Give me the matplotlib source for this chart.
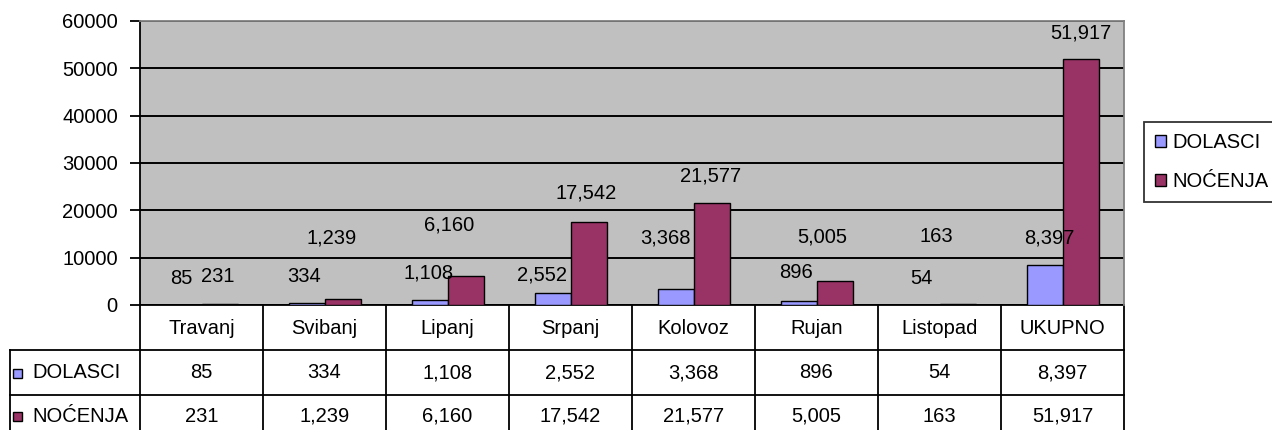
import matplotlib
matplotlib.use("Agg")
import matplotlib.pyplot as plt
from matplotlib.lines import Line2D
from matplotlib.patches import Rectangle
import numpy as np

plt.rcParams["font.family"] = ["Liberation Sans", "DejaVu Sans"]

months = ["Travanj", "Svibanj", "Lipanj", "Srpanj", "Kolovoz", "Rujan", "Listopad", "UKUPNO"]
dolasci = [85, 334, 1108, 2552, 3368, 896, 54, 8397]
nocenja = [231, 1239, 6160, 17542, 21577, 5005, 163, 51917]
series_names = ["DOLASCI", "NOĆENJA"]
yticks = [0, 10000, 20000, 30000, 40000, 50000, 60000]

# where the value labels sit (data units) and their sideways nudge (pixels)
dol_label_y = [5700, 6100, 6800, 6300, 14200, 6800, 5700, 14200]
noc_label_y = [6100, 14200, 16900, 23700, 27300, 14400, 14400, 57500]
dol_label_dx = [-2, -2, -1, -10, -10, -2, 0, 5]
noc_label_dx = [-2, -11, -16, -2, -1, -12, -21, 0]

col_d = "#9999FF"
col_n = "#993366"
W, H = 1272, 430
FS = 14.5

fig = plt.figure(figsize=(W / 100, H / 100), dpi=100)
left, right, top, bottom = 140, 1124, 21, 305
ax = fig.add_axes([left / W, 1 - bottom / H, (right - left) / W, (bottom - top) / H])
ax.set_facecolor("#C0C0C0")

x = np.arange(len(months))
bw = 36 / 123
ax.bar(x - bw / 2, dolasci, bw, color=col_d, edgecolor="black", linewidth=1, zorder=3, label=series_names[0])
ax.bar(x + bw / 2, nocenja, bw, color=col_n, edgecolor="black", linewidth=1, zorder=3, label=series_names[1])

for i in range(len(months)):
    ax.annotate(f"{dolasci[i]:,}", xy=(x[i] - bw / 2, dol_label_y[i]), xytext=(dol_label_dx[i], 0),
                textcoords="offset pixels", ha="center", va="center", fontsize=FS, zorder=4)
    ax.annotate(f"{nocenja[i]:,}", xy=(x[i] + bw / 2, noc_label_y[i]), xytext=(noc_label_dx[i], 0),
                textcoords="offset pixels", ha="center", va="center", fontsize=FS, zorder=4)

ax.set_xlim(-0.5, len(months) - 0.5)
ax.set_ylim(0, 60000)
ax.set_yticks(yticks)
ax.set_yticklabels([str(t) for t in yticks], fontsize=FS)
ax.tick_params(axis="y", length=7, width=1.3, pad=9, color="black")
ax.set_xticks([])
ax.yaxis.grid(True, color="black", linewidth=1.4, zorder=1)
ax.set_axisbelow(True)
ax.spines["left"].set_color("black")
ax.spines["left"].set_linewidth(1.3)
ax.spines["bottom"].set_visible(False)
for s in ["top", "right"]:
    ax.spines[s].set_color("#808080")
    ax.spines[s].set_linewidth(1.3)

# data table under the plot, drawn in axes coordinates (x follows the categories)
ah = bottom - top
def yax(py):
    return (bottom - py) / ah

row_tops = [305, 350, 395, 440]
tr = ax.get_xaxis_transform()
lw = 1.3
kw = dict(transform=tr, clip_on=False, color="black", linewidth=lw)
x_lab = -0.5 - (left - 10) / 123
# horizontal lines
ax.add_line(Line2D([-0.5, len(months) - 0.5], [yax(305)] * 2, **kw))
for py in row_tops[1:3]:
    ax.add_line(Line2D([x_lab, len(months) - 0.5], [yax(py)] * 2, **kw))
# vertical lines
for i in range(len(months) + 1):
    ax.add_line(Line2D([i - 0.5] * 2, [yax(305), yax(440)], **kw))
ax.add_line(Line2D([x_lab] * 2, [yax(350), yax(440)], **kw))

for i, m in enumerate(months):
    ax.text(i, yax(328), m, transform=tr, ha="center", va="center", fontsize=FS, clip_on=False)
    ax.text(i, yax(373), f"{dolasci[i]:,}", transform=tr, ha="center", va="center", fontsize=FS, clip_on=False)
    ax.text(i, yax(416), f"{nocenja[i]:,}", transform=tr, ha="center", va="center", fontsize=FS, clip_on=False)

for name, col, cy in [(series_names[0], col_d, 373), (series_names[1], col_n, 416)]:
    fig.add_artist(Rectangle((13 / W, 1 - (cy + 4.5) / H), 9 / W, 9 / H, transform=fig.transFigure,
                             facecolor=col, edgecolor="black", linewidth=1))
    fig.text(32 / W, 1 - cy / H, name, ha="left", va="center", fontsize=FS)

leg = fig.legend(loc="upper left", bbox_to_anchor=(1144 / W, 1 - 122 / H), fontsize=FS,
                 frameon=True, fancybox=False, edgecolor="black", handlelength=0.55, handleheight=0.55,
                 handletextpad=0.3, borderpad=0.55, labelspacing=1.0, borderaxespad=0)
leg.get_frame().set_linewidth(1.3)

fig.savefig("out.png", dpi=100)
